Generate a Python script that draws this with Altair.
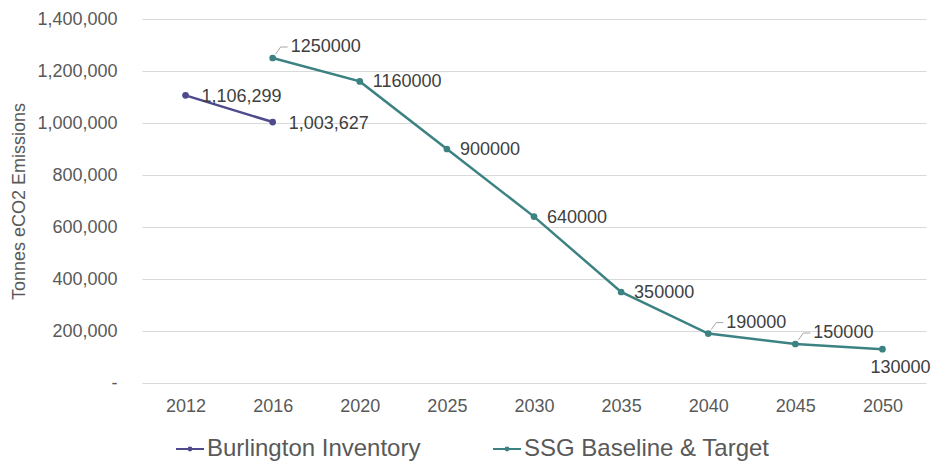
import altair as alt
import pandas as pd

years = ["2012", "2016", "2020", "2025", "2030", "2035", "2040", "2045", "2050"]
series_names = ["Burlington Inventory", "SSG Baseline & Target"]
burl_years = ["2012", "2016"]
burl_values = [1106299, 1003627]
ssg_years = ["2016", "2020", "2025", "2030", "2035", "2040", "2045", "2050"]
ssg_values = [1250000, 1160000, 900000, 640000, 350000, 190000, 150000, 130000]
y_ticks = [0, 200000, 400000, 600000, 800000, 1000000, 1200000, 1400000]
colors = ["#4F4A8C", "#3C8282"]

# which data labels sit above-right (with leader line) or below the point
above_years = ["2016", "2040", "2045"]
below_years = ["2050"]

rows = []
for y, v in zip(burl_years, burl_values):
    rows.append({"series": series_names[0], "year": y, "value": v,
                 "label": f"{v:,}", "pos": "burl"})
for y, v in zip(ssg_years, ssg_values):
    pos = "above" if y in above_years else ("below" if y in below_years else "right")
    rows.append({"series": series_names[1], "year": y, "value": v,
                 "label": str(v), "pos": pos})
df = pd.DataFrame(rows)

FONT = "Liberation Sans"

x_enc = alt.X("year:O", sort=years,
              scale=alt.Scale(type="point", domain=years, padding=0.5),
              axis=alt.Axis(title=None, labelAngle=0, ticks=False, domain=False,
                            labelFontSize=18, labelColor="#595959", labelFont=FONT,
                            labelPadding=14, grid=False))
y_enc = alt.Y("value:Q",
              scale=alt.Scale(domain=[0, 1400000], nice=False, zero=True),
              axis=alt.Axis(title="Tonnes eCO2 Emissions", values=y_ticks,
                            labelExpr="datum.value == 0 ? '-\u00a0\u00a0\u00a0' : format(datum.value, ',')",
                            ticks=False, domain=False, grid=True, gridColor="#D9D9D9",
                            gridWidth=1, labelFontSize=18, labelColor="#595959",
                            labelFont=FONT, labelPadding=25, titleFontSize=18,
                            titleFont=FONT, titleFontWeight="normal",
                            titleColor="#595959", titlePadding=8))

legend_path = ("M-1,0L1,0M-0.1,0a0.1,0.1 0 1,0 0.2,0a0.1,0.1 0 1,0 -0.2,0")
legend = alt.Legend(title=None, orient="none", legendX=33, legendY=415,
                    direction="horizontal", symbolType=legend_path, symbolSize=784,
                    symbolStrokeWidth=2, labelFontSize=24, labelFont=FONT,
                    labelColor="#595959", columnPadding=68, labelOffset=2,
                    labelLimit=400)
color_enc = alt.Color("series:N", scale=alt.Scale(domain=series_names, range=colors),
                      legend=legend)

base = alt.Chart(df).encode(x=x_enc, y=y_enc)

lines = base.mark_line(strokeWidth=2.5).encode(color=color_enc, detail="series:N")
points = base.mark_point(filled=True, size=45, opacity=1).encode(color=color_enc)

text_common = dict(fontSize=18, font=FONT, color="#404040", baseline="middle")
lab_burl = base.transform_filter(alt.datum.pos == "burl").mark_text(
    align="left", dx=16, dy=2, **text_common).encode(text="label:N")
lab_right = base.transform_filter(alt.datum.pos == "right").mark_text(
    align="left", dx=13, dy=1, **text_common).encode(text="label:N")
lab_above = base.transform_filter(alt.datum.pos == "above").mark_text(
    align="left", dx=18, dy=-11, **text_common).encode(text="label:N")
lab_below = base.transform_filter(alt.datum.pos == "below").mark_text(
    align="center", dx=18, dy=19, **text_common).encode(text="label:N")

lead_base = base.transform_filter(alt.datum.pos == "above").encode(
    x2=alt.X2("year"), y2=alt.Y2("value"))
lead1 = lead_base.mark_rule(color="#A6A6A6", strokeWidth=1,
                            xOffset=3, yOffset=-4, x2Offset=8, y2Offset=-11)
lead2 = lead_base.mark_rule(color="#A6A6A6", strokeWidth=1,
                            xOffset=8, yOffset=-11, x2Offset=15, y2Offset=-11)

chart = alt.layer(lead1, lead2, lines, points, lab_burl, lab_right, lab_above, lab_below).properties(
    width=784, height=364,
    autosize=alt.AutoSizeParams(type="none"),
    padding={"left": 134, "top": 11, "right": 5, "bottom": 81},
).configure_view(stroke=None)

chart.save("out.html", embed_options={"renderer": "svg", "actions": False})
